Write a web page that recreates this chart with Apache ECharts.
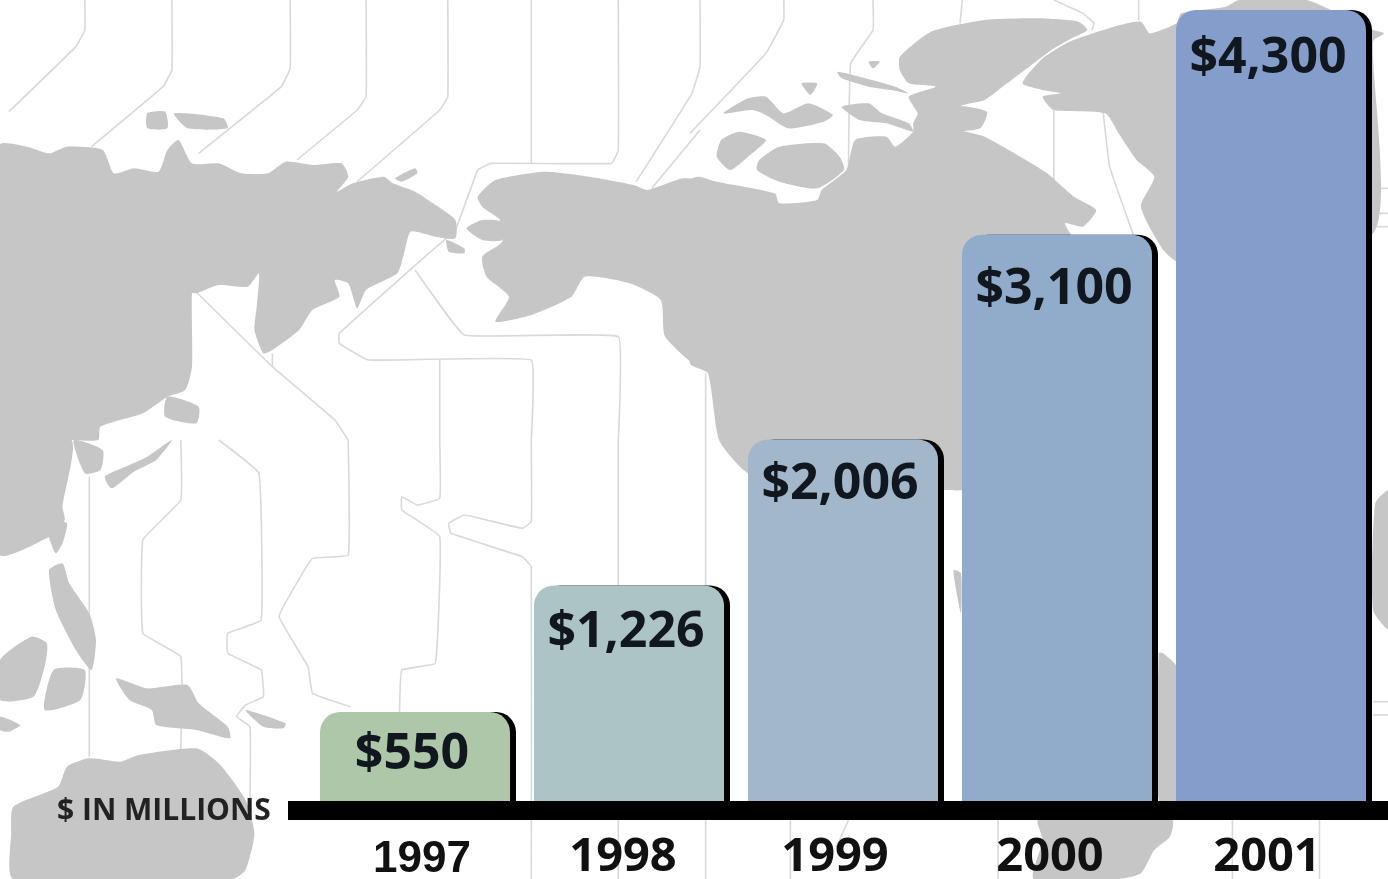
<!DOCTYPE html>
<html>
<head>
<meta charset="utf-8">
<style>
  html, body { margin: 0; padding: 0; background: #fff; }
  #main { width: 1388px; height: 879px; }
</style>
<script src="https://cdn.jsdelivr.net/npm/echarts@6/dist/echarts.min.js"></script>
</head>
<body>
<div id="main"></div>
<script>
const years = ['1997', '1998', '1999', '2000', '2001'];
const sales = [550, 1226, 2006, 3100, 4300];
const barColors = ['#adc7a8', '#acc4c6', '#a3b7ca', '#91acca', '#849dcb'];
const labelGaps = [18, 22, 20, 30, 24];
const yearFonts = ['Liberation Sans', 'Open Sans', 'Open Sans', 'Open Sans', 'Open Sans'];
const yearSizes = [44, 47, 47, 47, 47];
const yearPads = [[4, 0, 0, 14], [0, 12, 0, 0], [0, 16, 0, 0], [0, 14, 0, 0], [0, 8, 0, 0]];
const unitLabel = '$ IN MILLIONS';

// backdrop map, [originX, originY, then x,y pairs in crop units]
const leftTop = [0, 0];
const leftBot = [0, 440];
const rightTop = [690, 0];
const rightBot = [690, 440];

const land = [
  [leftTop, 0,435, 60,440, 110,460, 150,440, 230,450, 255,520, 300,505, 355,515, 375,450, 400,420, 430,490, 490,490, 540,520, 600,520, 640,485, 700,495, 765,490, 780,530, 755,575, 790,550, 860,530, 880,550, 930,575, 970,610, 1020,660, 1020,715, 975,710, 920,695, 905,760, 890,820, 820,870, 800,925, 780,850, 750,840, 760,890, 700,930, 670,990, 610,1050, 590,1060, 570,990, 575,920, 580,820, 555,860, 490,855, 440,880, 430,880, 430,1100, 415,1170, 375,1190, 320,1240, 225,1280, 220,1320, 160,1320, 140,1320, 0,1320],
  [leftBot, 0,0, 160,0, 140,200, 145,240, 110,290, 0,345],
  [leftTop, 330,340, 370,335, 375,385, 330,385],
  [leftTop, 390,340, 500,355, 510,385, 420,385],
  [leftTop, 885,535, 930,505, 935,520, 900,545],
  [leftTop, 1000,720, 1040,745, 1040,760, 1005,755],
  [leftTop, 375,1190, 445,1220, 440,1270, 370,1250],
  [leftBot, 385,0, 330,50, 290,75, 235,110, 250,145, 300,95, 350,60],
  [leftBot, 165,0, 230,30, 225,90, 190,100],
  [leftBot, 120,240, 150,250, 140,310, 125,340, 110,290],
  [leftBot, 110,390, 140,370, 155,430, 200,520, 215,600, 205,690, 170,630, 125,510],
  [leftBot, 0,660, 70,590, 105,610, 100,680, 75,770, 0,780],
  [leftBot, 120,690, 190,690, 180,780, 100,810],
  [leftBot, 260,715, 330,745, 420,735, 445,790, 510,860, 515,895, 440,870, 350,855, 340,810, 290,780],
  [leftBot, 550,810, 640,850, 635,865, 590,860],
  [leftBot, 30,1100, 130,1040, 150,980, 200,955, 270,965, 310,945, 440,925, 490,970, 550,1080, 570,1180, 550,1290, 520,1317, 30,1317, 25,1180],
  [leftBot, 0,830, 45,855, 20,875, 0,870],
  [leftTop, 1045,685, 1080,660, 1125,665, 1125,720, 1080,720],
  // alaska and the continent
  [leftTop, 1070,590, 1110,540, 1220,515, 1320,530, 1420,555, 1450,570, 1530,535, 1568,545, 1568,1095, 1490,1010, 1480,900, 1410,850, 1310,830, 1280,890, 1190,945, 1110,965, 1140,890, 1090,830, 1080,770, 1125,725, 1120,660, 1080,620],
  [rightTop, 0,540, 20,530, 60,545, 190,580, 200,610, 285,600, 295,570, 350,510, 370,420, 440,410, 460,440, 500,395, 500,370, 510,340, 490,290, 550,260, 490,250, 470,210, 470,170, 540,95, 660,60, 780,55, 870,65, 890,90, 855,115, 810,150, 760,200, 710,250, 660,300, 605,320, 600,385, 660,410, 740,470, 800,520, 860,590, 910,630, 880,680, 840,670, 870,730, 1000,800, 1000,1320, 610,1470, 570,1470, 200,1470, 120,1410, 65,1320, 40,1120, 0,1090],
  [rightTop, 155,480, 200,440, 300,430, 335,470, 345,510, 285,565, 200,545, 150,510],
  [rightTop, 75,340, 130,295, 170,290, 210,340, 265,310, 320,345, 300,365, 220,385, 170,345, 140,330],
  [rightTop, 60,470, 70,420, 110,395, 170,420, 130,470, 90,510],
  [rightTop, 330,215, 380,230, 460,260, 490,280, 450,270, 400,260, 340,235],
  [rightTop, 340,320, 400,310, 430,340, 490,370, 500,395, 440,370, 380,360],
  [rightTop, 250,250, 285,250, 270,285],
  [rightTop, 400,185, 425,185, 410,205],
  [rightTop, 590,320, 665,335, 650,385, 590,390],
  [rightTop, 745,250, 790,175, 850,125, 950,80, 1010,65, 1030,100, 1090,70, 1100,40, 1200,20, 1230,0, 1380,0, 1420,20, 1530,90, 1555,100, 1530,125, 1530,700, 1100,790, 1060,750, 1010,620, 1040,530, 1000,480, 960,400, 930,340, 815,330, 790,290, 830,280, 790,270],
  [rightBot, 590,390, 607,400, 607,520],
  [rightBot, 1060,640, 1095,690, 1095,1080, 1050,1080, 1050,640],
  [rightBot, 780,1140, 1080,1140, 1075,1190, 1040,1230, 1010,1300, 960,1317, 770,1317, 790,1200],
  [rightBot, 1568,150, 1535,190, 1530,510, 1568,570]
];

const zones = [
  [leftTop, 190,0, 190,90, 170,140, 20,335],
  [leftTop, 385,0, 385,210, 365,260, 205,440],
  [leftTop, 650,0, 650,205, 630,260, 445,460],
  [leftTop, 820,0, 820,290, 800,330, 665,480],
  [leftTop, 1003,0, 1003,290, 985,330, 800,545],
  [leftTop, 1190,0, 1190,490],
  [leftTop, 1385,0, 1385,450, 1370,490, 1100,490, 1070,510, 1020,690, 960,760, 760,1000, 760,1030, 825,1080, 1190,1080, 1190,1320],
  [leftBot, 1190,0, 1190,245, 1170,265, 1040,225, 1005,250, 1010,280, 1170,350, 1190,380, 1190,1317],
  [leftTop, 930,810, 1040,1005, 1385,1010, 1385,1320],
  [leftBot, 1385,0, 1385,1317],
  [leftTop, 435,870, 610,1100, 750,1260, 780,1320],
  [leftBot, 490,0, 580,100, 585,540, 510,580, 510,640, 585,690, 590,770, 550,795, 530,830, 560,860, 560,1080],
  [leftTop, 610,1060, 610,1100],
  [leftTop, 985,1080, 985,1320],
  [leftBot, 985,0, 985,175, 935,195, 900,170, 900,210, 985,290, 975,670, 900,690, 895,815],
  [leftBot, 780,0, 780,345, 700,355, 660,440, 625,530, 690,680, 700,760, 785,800],
  [leftBot, 405,0, 405,180, 320,300, 320,580, 405,650, 405,930],
  [leftBot, 200,110, 200,950],
  [leftTop, 1425,545, 1550,280, 1568,200, 1568,0],
  [leftTop, 1460,565, 1568,390],
  [rightTop, 210,0, 210,60, 170,160, 0,400],
  [rightTop, 410,0, 410,90, 360,190, 355,500],
  [rightTop, 610,0, 605,70],
  [rightTop, 815,0, 880,40, 905,70, 900,90],
  [rightTop, 1005,0, 1005,60],
  [rightTop, 815,330, 815,730],
  [rightTop, 925,330, 940,500, 1000,730],
  [rightTop, 35,1120, 35,1320],
  [rightBot, 35,0, 35,1317],
  [rightTop, 1530,565, 1568,565],
  [rightTop, 1530,640, 1568,640],
  [rightTop, 1530,680, 1568,680],
  [rightBot, 1530,785, 1568,785],
  [rightBot, 1530,825, 1568,825],
  [rightBot, 225,1140, 225,1317],
  [rightBot, 355,1140, 335,1200],
  [rightBot, 690,1140, 690,1317],
  [rightBot, 1215,1140, 1215,1317],
  [rightBot, 1410,1140, 1410,1317]
];

// crops came back 2.24x wide and 3x tall
const toPoints = (shape) => {
  const [origin, ...flat] = shape;
  const pts = [];
  for (let i = 0; i < flat.length; i += 2) {
    pts.push([origin[0] + flat[i] / 2.24, origin[1] + flat[i + 1] / 3]);
  }
  return pts;
};

const backdrop = [
  ...zones.map((shape) => ({
    type: 'polyline', silent: true, z: 0,
    shape: { points: toPoints(shape), smooth: 0.08 },
    style: { fill: null, stroke: '#d9d9d9', lineWidth: 1.6 }
  })),
  ...land.map((shape) => ({
    type: 'polygon', silent: true, z: 0,
    shape: { points: toPoints(shape), smooth: 0.2 },
    style: { fill: '#c6c6c6' }
  }))
];

const chart = echarts.init(document.getElementById('main'));
chart.setOption({
  backgroundColor: '#fff',
  animation: false,
  graphic: [
    ...backdrop,
    {
      type: 'rect', silent: true, z: 10,
      shape: { x: 288, y: 801, width: 1100, height: 19 },
      style: { fill: '#000' }
    },
    {
      type: 'text', silent: true, z: 10, x: 57, y: 811,
      style: {
        text: unitLabel, fill: '#222', font: '700 30px "Open Sans"',
        textAlign: 'left', textVerticalAlign: 'middle'
      }
    }
  ],
  grid: { left: 308, right: 10, top: 10, bottom: 78, outerBoundsMode: 'none' },
  xAxis: {
    type: 'category',
    z: 5,
    data: years.map((y, i) => ({
      value: y,
      textStyle: { fontFamily: yearFonts[i], fontSize: yearSizes[i], padding: yearPads[i] }
    })),
    axisLine: { show: false },
    axisTick: { show: false },
    axisLabel: {
      margin: 33, fontWeight: 700, color: '#111', interval: 0
    }
  },
  // bars in the picture are not quite to scale, this baseline gets both ends right
  yAxis: { type: 'value', min: 75, max: 4300, show: false, splitLine: { show: false } },
  series: [{
    type: 'bar',
    barWidth: 190,
    z: 3,
    data: sales.map((v, i) => ({
      value: v,
      itemStyle: { color: barColors[i] },
      label: { distance: labelGaps[i] }
    })),
    itemStyle: {
      borderRadius: [20, 20, 0, 0],
      shadowColor: '#000',
      shadowBlur: 0,
      shadowOffsetX: 6,
      shadowOffsetY: 0
    },
    label: {
      show: true,
      position: 'insideTop',
      offset: [-3, 0],
      fontFamily: 'Open Sans',
      fontWeight: 700,
      fontSize: 50,
      color: '#10171f',
      formatter: (p) => '$' + p.value.toLocaleString('en-US')
    }
  }]
});
window.addEventListener('resize', () => chart.resize());
</script>
</body>
</html>
